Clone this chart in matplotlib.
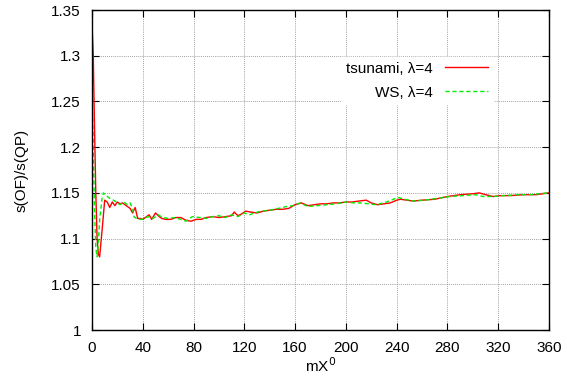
import matplotlib
matplotlib.use("Agg")
import matplotlib.pyplot as plt

plt.rcParams['font.family'] = ['Liberation Sans', 'DejaVu Sans']

# tsunami, lambda=4
x_ts = [0, 1, 2, 3, 4, 5, 6, 8, 10, 12, 14, 16, 18, 20, 22, 24, 26, 28, 30, 32,
        34, 36, 38, 40, 43, 45, 47, 50, 53, 55, 58, 62, 66, 70, 74, 78, 82, 86,
        90, 95, 100, 105, 110, 112, 115, 118, 121, 125, 130, 135, 140, 145, 150,
        155, 160, 165, 170, 175, 180, 185, 190, 195, 200, 205, 210, 216, 220,
        225, 230, 235, 240, 243, 248, 253, 260, 270, 280, 290, 300, 305, 310,
        316, 322, 330, 340, 350, 360]
y_ts = [1.335, 1.30, 1.22, 1.15, 1.10, 1.083, 1.080, 1.110, 1.142, 1.140, 1.134,
        1.140, 1.136, 1.140, 1.138, 1.139, 1.137, 1.135, 1.133, 1.128, 1.134,
        1.122, 1.122, 1.121, 1.124, 1.126, 1.121, 1.128, 1.124, 1.122, 1.121,
        1.121, 1.123, 1.123, 1.120, 1.119, 1.121, 1.121, 1.123, 1.124, 1.123,
        1.124, 1.125, 1.129, 1.125, 1.127, 1.130, 1.129, 1.128, 1.130, 1.131,
        1.132, 1.132, 1.133, 1.137, 1.139, 1.136, 1.137, 1.138, 1.138, 1.139,
        1.139, 1.140, 1.140, 1.141, 1.142, 1.139, 1.137, 1.138, 1.139, 1.142,
        1.143, 1.142, 1.141, 1.142, 1.143, 1.146, 1.148, 1.149, 1.150, 1.148,
        1.146, 1.147, 1.147, 1.148, 1.148, 1.150]

# WS, lambda=4
x_ws = [0, 1, 2, 3, 4, 5, 6, 8, 9, 11, 13, 15, 17, 19, 22, 25, 28, 30, 32, 33,
        35, 38, 40, 44, 48, 52, 56, 60, 65, 70, 74, 79, 85, 90, 95, 100, 105,
        110, 115, 120, 124, 128, 133, 140, 147, 153, 158, 164, 170, 177, 185,
        192, 200, 206, 211, 218, 224, 232, 241, 246, 253, 262, 272, 282, 292,
        302, 308, 316, 325, 335, 345, 352, 360]
y_ws = [1.27, 1.20, 1.13, 1.09, 1.080, 1.095, 1.120, 1.145, 1.150, 1.147, 1.145,
        1.143, 1.142, 1.140, 1.137, 1.140, 1.137, 1.139, 1.133, 1.124, 1.122,
        1.121, 1.121, 1.124, 1.122, 1.126, 1.123, 1.122, 1.123, 1.121, 1.119,
        1.124, 1.123, 1.122, 1.124, 1.125, 1.123, 1.126, 1.124, 1.128, 1.126,
        1.128, 1.130, 1.131, 1.133, 1.135, 1.136, 1.139, 1.135, 1.136, 1.137,
        1.138, 1.140, 1.139, 1.139, 1.138, 1.137, 1.140, 1.145, 1.143, 1.141,
        1.142, 1.144, 1.146, 1.147, 1.148, 1.146, 1.146, 1.147, 1.148, 1.148,
        1.149, 1.150]

xticks = list(range(0, 361, 40))
yticks = [1, 1.05, 1.1, 1.15, 1.2, 1.25, 1.3, 1.35]
ytick_labels = ['1', '1.05', '1.1', '1.15', '1.2', '1.25', '1.3', '1.35']

fig = plt.figure(figsize=(5.67, 3.81), dpi=100)
ax = fig.add_axes([92 / 567, 1 - 330 / 381, 457 / 567, 320 / 381])

ax.plot(x_ts, y_ts, color='#ff0000', lw=1.0, label='tsunami, λ=4')
ax.plot(x_ws, y_ws, color='#00ee00', lw=1.0, ls=(0, (3, 2)), label='WS, λ=4')

ax.set_xlim(0, 360)
ax.set_ylim(1, 1.35)
ax.set_xticks(xticks)
ax.set_yticks(yticks)
ax.set_yticklabels(ytick_labels)
ax.tick_params(direction='in', length=5, width=0.8, top=True, right=True,
               labelsize=11)
ax.tick_params(axis='y', pad=8)
ax.tick_params(axis='x', pad=8)
ax.grid(True, color='#808080', ls=(0, (1, 1.5)), lw=0.6)
for s in ax.spines.values():
    s.set_linewidth(1.0)

ax.set_xlabel('mX$^0$', fontsize=11, labelpad=1)
ax.set_ylabel('s(OF)/s(QP)', fontsize=11, labelpad=16)

leg = ax.legend(loc='upper right', bbox_to_anchor=(0.877, 0.853), markerfirst=False,
                fontsize=11, handlelength=2.8, handletextpad=0.85,
                labelspacing=0.65, frameon=True, fancybox=False,
                facecolor='white', edgecolor='white', framealpha=1.0,
                borderpad=0.3, borderaxespad=0)
for t in leg.get_texts():
    t.set_ha('right')

fig.savefig('out.png', dpi=100)
